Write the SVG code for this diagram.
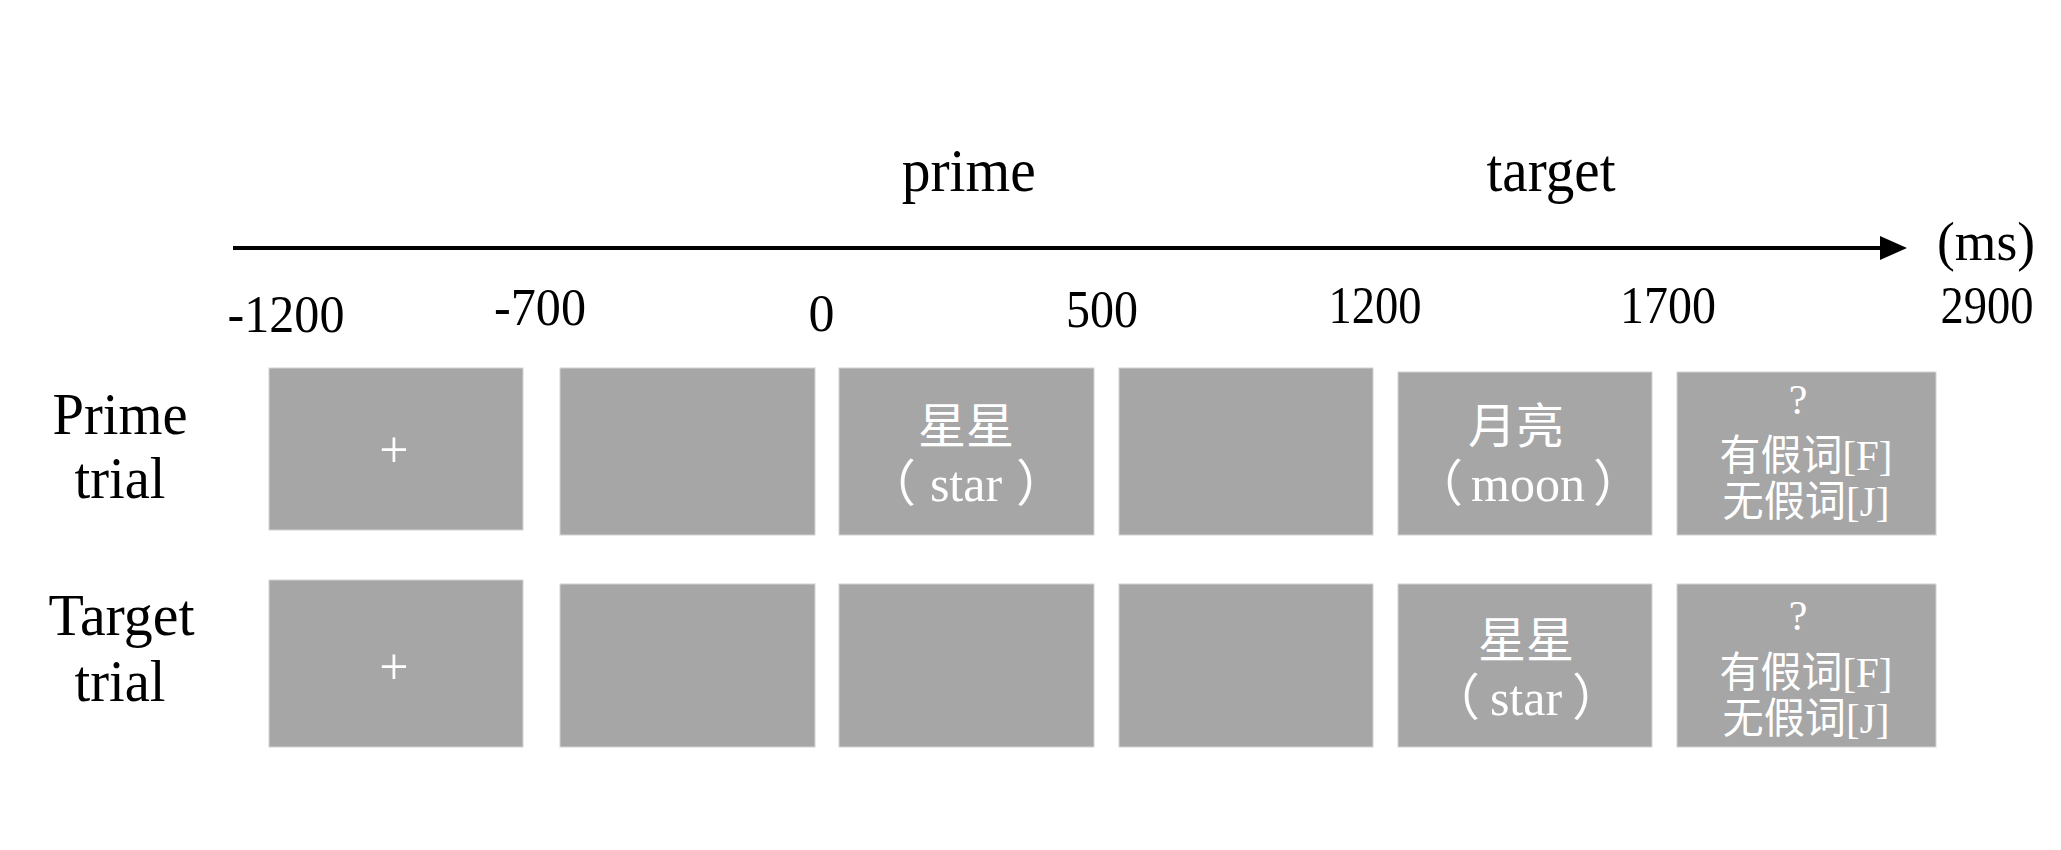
<svg xmlns="http://www.w3.org/2000/svg" width="2061" height="850" viewBox="0 0 2061 850">
<defs>
<style>
.bg{fill:#ffffff}
.box{fill:#a6a6a6;stroke:#d2d2d2;stroke-width:1}
.lbl{font-family:"Liberation Serif","Noto Sans CJK SC",serif;fill:#000000;text-anchor:middle}
.ax{font-size:52px}
.hd{font-size:62px}
.row{font-size:60px}
.w{font-family:"Liberation Serif","Noto Sans CJK SC",serif;fill:#ffffff;text-anchor:middle}
.cjk{font-size:48px}
.en{font-size:50px}
.q{font-size:42px}
.ch{font-size:42px}
.plus{font-size:52px}
</style>
</defs>
<rect class="bg" x="0" y="0" width="2061" height="850"/>

<g id="axis">
<line x1="233" y1="248" x2="1884" y2="248" stroke="#000" stroke-width="4"/>
<polygon points="1880,236 1907,248 1880,260" fill="#000"/>
<text class="lbl hd" x="968.7" y="191" textLength="134" lengthAdjust="spacingAndGlyphs">prime</text>
<text class="lbl hd" x="1551" y="191" textLength="129" lengthAdjust="spacingAndGlyphs">target</text>
<text class="lbl" style="font-size:54px" x="1986" y="260" textLength="98" lengthAdjust="spacingAndGlyphs">(ms)</text>
<text class="lbl ax" x="286" y="332" textLength="117" lengthAdjust="spacingAndGlyphs">-1200</text>
<text class="lbl ax" x="540" y="325" textLength="92" lengthAdjust="spacingAndGlyphs">-700</text>
<text class="lbl ax" x="821.5" y="331">0</text>
<text class="lbl ax" x="1102" y="327" textLength="72" lengthAdjust="spacingAndGlyphs">500</text>
<text class="lbl ax" x="1375" y="323" textLength="93" lengthAdjust="spacingAndGlyphs">1200</text>
<text class="lbl ax" x="1668" y="323" textLength="96" lengthAdjust="spacingAndGlyphs">1700</text>
<text class="lbl ax" x="1987" y="323" textLength="93" lengthAdjust="spacingAndGlyphs">2900</text>
</g>

<g id="row-labels">
<text class="lbl row" x="120" y="434" textLength="135" lengthAdjust="spacingAndGlyphs">Prime</text>
<text class="lbl row" x="120" y="498" textLength="91" lengthAdjust="spacingAndGlyphs">trial</text>
<text class="lbl row" x="121.6" y="635" textLength="146" lengthAdjust="spacingAndGlyphs">Target</text>
<text class="lbl row" x="120" y="701" textLength="91" lengthAdjust="spacingAndGlyphs">trial</text>
</g>

<g id="p1">
<rect class="box" x="269" y="368" width="254" height="162"/>
<text class="w plus" x="394" y="467">+</text>
</g>
<g id="p2"><rect class="box" x="560" y="368" width="255" height="167"/></g>
<g id="p3">
<rect class="box" x="839" y="368" width="255" height="167"/>
<text class="w cjk" x="966" y="443">星星</text>
<text class="w en" x="966" y="501">（<tspan dx="14">star</tspan><tspan dx="14">）</tspan></text>
</g>
<g id="p4"><rect class="box" x="1119" y="368" width="254" height="167"/></g>
<g id="p5">
<rect class="box" x="1398" y="372" width="254" height="163"/>
<text class="w cjk" x="1516" y="443">月亮</text>
<text class="w en" x="1528" y="501">（<tspan dx="8">moon</tspan><tspan dx="8">）</tspan></text>
</g>
<g id="p6">
<rect class="box" x="1677" y="372" width="259" height="163"/>
<text class="w q" x="1798" y="414">?</text>
<text class="w ch" x="1806" y="470" textLength="173" lengthAdjust="spacingAndGlyphs">有假词[F]</text>
<text class="w ch" x="1806" y="516" textLength="167" lengthAdjust="spacingAndGlyphs">无假词[J]</text>
</g>

<g id="t1">
<rect class="box" x="269" y="580" width="254" height="167"/>
<text class="w plus" x="394" y="684">+</text>
</g>
<g id="t2"><rect class="box" x="560" y="584" width="255" height="163"/></g>
<g id="t3"><rect class="box" x="839" y="584" width="255" height="163"/></g>
<g id="t4"><rect class="box" x="1119" y="584" width="254" height="163"/></g>
<g id="t5">
<rect class="box" x="1398" y="584" width="254" height="163"/>
<text class="w cjk" x="1526" y="657">星星</text>
<text class="w en" x="1526" y="715">（<tspan dx="10">star</tspan><tspan dx="10">）</tspan></text>
</g>
<g id="t6">
<rect class="box" x="1677" y="584" width="259" height="163"/>
<text class="w q" x="1798" y="630">?</text>
<text class="w ch" x="1806" y="687" textLength="173" lengthAdjust="spacingAndGlyphs">有假词[F]</text>
<text class="w ch" x="1806" y="733" textLength="167" lengthAdjust="spacingAndGlyphs">无假词[J]</text>
</g>
</svg>
